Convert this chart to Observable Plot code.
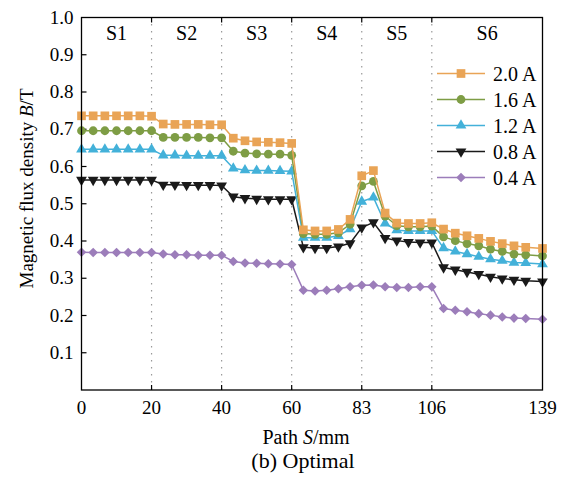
<!DOCTYPE html>
<html><head><meta charset="utf-8">
<script src="https://cdn.jsdelivr.net/npm/d3@7"></script>
<script src="https://cdn.jsdelivr.net/npm/@observablehq/plot@0.6"></script>
<style>
body{margin:0;background:#fff;}
#chart{width:566px;height:481px;}
</style></head><body><div id="chart"></div>
<script>
// ---- data ----
const pathS = [0,3.33,6.67,10,13.33,16.67,20, 23.33,26.67,30,33.33,36.67,40, 43.33,46.67,50,53.33,56.67,60, 63.83,67.67,71.5,75.33,79.17,83, 86.83,90.67,94.5,98.33,102.17,106, 109.5,113,116.5,120,123.5,127,130.5,134,139];
const b20 = [0.736,0.736,0.736,0.736,0.736,0.736,0.735, 0.714,0.713,0.713,0.713,0.712,0.712, 0.676,0.669,0.666,0.665,0.664,0.662, 0.430,0.427,0.427,0.431,0.458,0.575, 0.589,0.475,0.448,0.447,0.447,0.449, 0.432,0.421,0.414,0.407,0.399,0.393,0.387,0.383,0.380];
const b16 = [0.696,0.696,0.696,0.696,0.696,0.696,0.696, 0.678,0.678,0.678,0.678,0.677,0.677, 0.641,0.636,0.634,0.633,0.633,0.630, 0.420,0.418,0.418,0.422,0.445,0.548, 0.560,0.467,0.441,0.438,0.438,0.440, 0.411,0.401,0.393,0.387,0.378,0.372,0.365,0.363,0.360];
const b12 = [0.646,0.646,0.646,0.646,0.646,0.646,0.646, 0.630,0.630,0.629,0.629,0.629,0.629, 0.595,0.590,0.589,0.589,0.588,0.587, 0.409,0.409,0.409,0.414,0.432,0.506, 0.517,0.447,0.429,0.427,0.427,0.427, 0.381,0.372,0.365,0.358,0.351,0.347,0.342,0.341,0.338];
const b08 = [0.564,0.564,0.564,0.564,0.564,0.564,0.564, 0.551,0.551,0.550,0.550,0.550,0.549, 0.519,0.515,0.513,0.512,0.512,0.512, 0.383,0.381,0.381,0.385,0.394,0.436, 0.450,0.408,0.401,0.397,0.396,0.396, 0.329,0.323,0.317,0.311,0.304,0.299,0.296,0.293,0.291];
const b04 = [0.370,0.369,0.369,0.369,0.369,0.369,0.369, 0.365,0.363,0.363,0.362,0.362,0.362, 0.345,0.341,0.340,0.339,0.338,0.337, 0.268,0.266,0.268,0.272,0.277,0.281, 0.282,0.277,0.275,0.275,0.277,0.277, 0.219,0.214,0.210,0.205,0.201,0.196,0.193,0.192,0.190];
const currents = ["2.0 A","1.6 A","1.2 A","0.8 A","0.4 A"];
const seriesValues = [b20, b16, b12, b08, b04];
const colors = ["#E9A456","#7E9D45","#43B1D9","#1a1a1a","#9C7DBA"];
const xTicks = [0,20,40,60,83,106,139];
const sectionNames = ["S1","S2","S3","S4","S5","S6"];
const yTicks = [0.1,0.2,0.3,0.4,0.5,0.6,0.7,0.8,0.9,1.0];

// ---- symbols ----
const triDown = {draw(ctx, size){ const y = -Math.sqrt(size/(Math.sqrt(3)*3)); ctx.moveTo(0,-2*y); ctx.lineTo(-Math.sqrt(3)*y, y); ctx.lineTo(Math.sqrt(3)*y, y); ctx.closePath(); }};
const diamond = d3.symbolDiamond2 || {draw(ctx,size){const r=Math.sqrt(size)*0.62625;ctx.moveTo(0,-r);ctx.lineTo(r,0);ctx.lineTo(0,r);ctx.lineTo(-r,0);ctx.closePath();}};
const tickUp = {draw(ctx,size){const l=Math.sqrt(size/Math.PI);ctx.moveTo(0,0);ctx.lineTo(0,-l);}};
const tickDown = {draw(ctx,size){const l=Math.sqrt(size/Math.PI);ctx.moveTo(0,0);ctx.lineTo(0,l);}};
const tickRight = {draw(ctx,size){const l=Math.sqrt(size/Math.PI);ctx.moveTo(0,0);ctx.lineTo(l,0);}};
const symbols = [d3.symbolSquare, d3.symbolCircle, d3.symbolTriangle, triDown, diamond];
const radii = [4.9, 4.4, 4.0, 4.0, 4.3];

// ---- layout ----
const W = 566, H = 481, mL = 81, mR = 24, mT = 17, mB = 91.5;
const segW = [1,1,1,1,1,1.58];
const total = d3.sum(segW), plotW = W - mL - mR;
let acc = 0; const xRange = [mL];
segW.forEach(w => { acc += w; xRange.push(mL + plotW*acc/total); });

const tables = currents.map((c, k) => pathS.map((s, i) => ({s, b: seriesValues[k][i], current: c})));
const order = [4,3,2,1,0];
const seriesMarks = [];
for (const k of order) {
  seriesMarks.push(Plot.line(tables[k], {x: "s", y: "b", stroke: colors[k], strokeWidth: 1.5}));
  seriesMarks.push(Plot.dot(tables[k], {x: "s", y: "b", symbol: symbols[k], r: radii[k], fill: colors[k], stroke: "none"}));
}
const inner = xTicks.slice(1, -1);
const mids = sectionNames.map((n, i) => ({name: n, x: (xTicks[i] + xTicks[i+1]) / 2}));

const plot = Plot.plot({
  width: W, height: H, marginLeft: mL, marginRight: mR, marginTop: mT, marginBottom: mB,
  style: {fontFamily: "'Liberation Serif', 'Times New Roman', serif", fontSize: "19px", color: "#000", background: "#fff"},
  x: {type: "linear", domain: xTicks, range: xRange, label: null},
  y: {domain: [0, 1], label: null},
  marks: [
    Plot.ruleX(inner, {x: d => d, stroke: "#999", strokeDasharray: "1.5,5.5", strokeWidth: 1.2}),
    Plot.dot(inner, {x: d => d, y: 0, symbol: tickUp, r: 5, stroke: "#000", fill: "none", strokeWidth: 1.2}),
    Plot.dot(inner, {x: d => d, y: 1, symbol: tickDown, r: 5, stroke: "#000", fill: "none", strokeWidth: 1.2}),
    Plot.dot(yTicks.slice(0, -1), {x: 0, y: d => d, symbol: tickRight, r: 5, stroke: "#000", fill: "none", strokeWidth: 1.2}),
    ...seriesMarks,
    Plot.text(mids, {x: "x", y: 0.957, text: "name", fontSize: 20}),
    Plot.frame({stroke: "#000", strokeWidth: 1.3}),
    Plot.axisX(xTicks, {tickSize: 0, tickPadding: 10, fontSize: 19, label: null}),
    Plot.axisY(yTicks, {tickSize: 0, tickPadding: 8, fontSize: 19, tickFormat: d => d.toFixed(1), label: null})
  ]
});
document.getElementById("chart").appendChild(plot);

// ---- titles, caption, legend ----
const svg = d3.select(plot);
const ff = "'Liberation Serif', 'Times New Roman', serif";
const yl = svg.append("text").attr("transform", "translate(33,188.5) rotate(-90)")
  .attr("text-anchor", "middle").attr("font-family", ff).attr("font-size", 19).attr("fill", "#000");
yl.append("tspan").text("Magnetic flux density ");
yl.append("tspan").attr("font-style", "italic").text("B");
yl.append("tspan").text("/T");
const xl = svg.append("text").attr("x", 306).attr("y", 444)
  .attr("text-anchor", "middle").attr("font-family", ff).attr("font-size", 20).attr("fill", "#000");
xl.append("tspan").text("Path ");
xl.append("tspan").attr("font-style", "italic").text("S");
xl.append("tspan").text("/mm");
svg.append("text").attr("x", 303).attr("y", 468).attr("text-anchor", "middle")
  .attr("font-family", ff).attr("font-size", 22).attr("fill", "#000").text("(b) Optimal");

const lg = svg.append("g");
currents.forEach((c, k) => {
  const y = 73.5 + k * 26;
  lg.append("line").attr("x1", 437).attr("x2", 485).attr("y1", y).attr("y2", y)
    .attr("stroke", colors[k]).attr("stroke-width", 1.5);
  lg.append("path").attr("transform", `translate(461,${y})`)
    .attr("d", d3.symbol().type(symbols[k]).size(radii[k]*radii[k]*Math.PI)()).attr("fill", colors[k]);
  lg.append("text").attr("x", 493).attr("y", y).attr("dy", "0.35em").attr("text-anchor", "start")
    .attr("font-family", ff).attr("font-size", 20).attr("fill", "#000").text(c);
});
</script></body></html>
